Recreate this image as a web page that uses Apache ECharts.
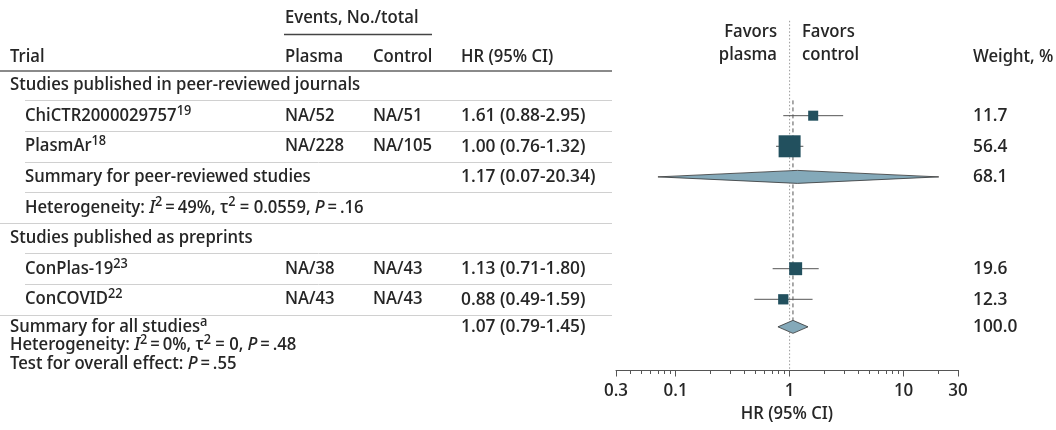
<!DOCTYPE html>
<html><head><meta charset="utf-8">
<script src="https://cdn.jsdelivr.net/npm/echarts@6/dist/echarts.min.js"></script>
<style>html,body{margin:0;padding:0;background:#fff}#main{width:1056px;height:430px}</style>
</head><body><div id="main"></div>
<script>
// ---------- data ----------
const studyNames   = ['ChiCTR2000029757', 'PlasmAr', 'ConPlas-19', 'ConCOVID'];
const studyRefs    = ['19', '18', '23', '22'];
const studyRows    = [1, 2, 6, 7];
const plasmaEvents = ['NA/52', 'NA/228', 'NA/38', 'NA/43'];
const controlEvents= ['NA/51', 'NA/105', 'NA/43', 'NA/43'];
const studyHR      = [1.61, 1.00, 1.13, 0.88];
const studyLo      = [0.88, 0.76, 0.71, 0.49];
const studyHi      = [2.95, 1.32, 1.80, 1.59];
const studyWeight  = [11.7, 56.4, 19.6, 12.3];

const summaryNames = ['Summary for peer-reviewed studies', 'Summary for all studies'];
const summaryRefs  = ['', 'a'];
const summaryRows  = [3, 7.9];
const summaryHR    = [1.17, 1.07];
const summaryLo    = [0.07, 0.79];
const summaryHi    = [20.34, 1.45];
const summaryWeight= [68.1, 100.0];

const groupNames = ['Studies published in peer-reviewed journals', 'Studies published as preprints'];
const groupRows  = [0, 5];

const tickValues = [0.03, 0.1, 1, 10, 30];
const tickLabels = ['0.3', '0.1', '1', '10', '30'];
const minorTickValues = [0.04,0.05,0.06,0.07,0.08,0.09,0.2,0.3,0.4,0.5,0.6,0.7,0.8,0.9,2,3,4,5,6,7,8,9,20];

// ---------- style ----------
const FONT = '"Noto Sans Display"';
const FS = 17.7, SUP = 13.5;
const TXT = '#262626';
const SQUARE = '#22505e';
const DIAMOND = '#84a9b9';

const chart = echarts.init(document.getElementById('main'), null, {renderer: 'canvas'});
const fmt2 = v => v.toFixed(2);

chart.setOption({
  animation: false,
  grid: {left: 616, right: 98, top: 0, bottom: 60},
  xAxis: [{
    type: 'log', logBase: 10, min: 0.03, max: 30, position: 'bottom',
    splitLine: {show: false},
    axisLine: {onZero: false, lineStyle: {color: '#555', width: 1}},
    axisTick: {customValues: tickValues, length: 6.5, lineStyle: {color: '#555'}},
    axisLabel: {customValues: tickValues, margin: 12, color: TXT, fontSize: 18, fontFamily: FONT, fontWeight: 500,
      formatter: v => { const i = tickValues.findIndex(t => Math.abs(t - v) / t < 1e-6); return i >= 0 ? tickLabels[i] : ''; }},
    name: 'HR (95% CI)', nameLocation: 'middle', nameGap: 34,
    nameTextStyle: {color: TXT, fontSize: FS, fontFamily: FONT, fontWeight: 500}
  }, {
    type: 'log', logBase: 10, min: 0.03, max: 30, position: 'bottom',
    splitLine: {show: false},
    axisLine: {show: false, onZero: false},
    axisTick: {customValues: minorTickValues, length: 4, lineStyle: {color: '#555', width: 1}},
    axisLabel: {show: false}
  }],
  yAxis: {type: 'value', inverse: true, min: -2.78, max: 9.31, show: false},
  series: [
    { // reference lines
      type: 'custom', coordinateSystem: 'cartesian2d', silent: true,
      data: [[1, -2.1, 9.31, 0], [summaryHR[1], 0.5, 7.68, 1]],
      renderItem: (params, api) => {
        const x = api.value(0), p1 = api.coord([x, api.value(1)]), p2 = api.coord([x, api.value(2)]);
        const dark = api.value(3) === 1;
        return {type: 'line', shape: {x1: p1[0], y1: p1[1], x2: p2[0], y2: p2[1]},
          style: dark ? {stroke: '#555', lineWidth: 1, lineDash: [4, 3]} : {stroke: '#999', lineWidth: 1, lineDash: [1.5, 2]}};
      }
    },
    { // study CIs + squares
      type: 'custom', coordinateSystem: 'cartesian2d', silent: true,
      data: studyNames.map((n, i) => [studyHR[i], studyRows[i], studyLo[i], studyHi[i], studyWeight[i]]),
      renderItem: (params, api) => {
        const c = api.coord([api.value(0), api.value(1)]);
        const l = api.coord([api.value(2), api.value(1)]);
        const h = api.coord([api.value(3), api.value(1)]);
        const s = 2.93 * Math.sqrt(api.value(4));
        return {type: 'group', children: [
          {type: 'line', shape: {x1: l[0], y1: c[1], x2: h[0], y2: c[1]}, style: {stroke: '#555', lineWidth: 1}},
          {type: 'rect', shape: {x: c[0] - s / 2, y: c[1] - s / 2, width: s, height: s}, style: {fill: SQUARE}}
        ]};
      }
    },
    { // summary diamonds
      type: 'custom', coordinateSystem: 'cartesian2d', silent: true,
      data: summaryNames.map((n, i) => [summaryHR[i], summaryRows[i], summaryLo[i], summaryHi[i]]),
      renderItem: (params, api) => {
        const c = api.coord([api.value(0), api.value(1)]);
        const l = api.coord([api.value(2), api.value(1)]);
        const h = api.coord([api.value(3), api.value(1)]);
        const hh = 6.5;
        return {type: 'polygon', shape: {points: [[l[0], c[1]], [c[0], c[1] - hh], [h[0], c[1]], [c[0], c[1] + hh]]},
          style: {fill: DIAMOND, stroke: '#333', lineWidth: 0.8}};
      }
    }
  ]
});

// ---------- table text ----------
const ctx = document.createElement('canvas').getContext('2d');
const W = 500;
function fontStr(size, italic) { return (italic ? 'italic ' : '') + W + ' ' + size + 'px ' + FONT; }
function measure(t, size, italic) { ctx.font = fontStr(size, italic); return ctx.measureText(t).width; }
function pieces(x, y, parts) {
  const out = [];
  let cx = x;
  parts.forEach(p => {
    const size = p.sup ? SUP : FS;
    out.push({type: 'text', x: cx, y: p.sup ? y - 5 : y, silent: true,
      style: {text: p.t, fill: TXT, font: fontStr(size, p.it), textAlign: 'left', textVerticalAlign: 'middle'}});
    cx += measure(p.t, size, p.it);
  });
  return out;
}
function txt(x, y, t, align, size) {
  return {type: 'text', x: x, y: y, silent: true,
    style: {text: t, fill: TXT, font: fontStr(size || FS), textAlign: align || 'left', textVerticalAlign: 'middle'}};
}
function hline(x1, x2, y, color, w) {
  return {type: 'line', silent: true, shape: {x1: x1, y1: y, x2: x2, y2: y}, style: {stroke: color, lineWidth: w}};
}
const Y = r => chart.convertToPixel({yAxisIndex: 0}, r);

const COL_NAME = 10, COL_STUDY = 25, COL_PL = 285, COL_CT = 373, COL_HR = 461, COL_W = 973, TABLE_R = 612;
const NUM = 18.4; // numeric columns a little wider, as in the reference
const els = [];
// header
els.push(txt(COL_PL, 18, 'Events, No./total'));
els.push(hline(284, 432, 34.5, '#444', 1.3));
els.push(txt(COL_NAME, 57, 'Trial'));
els.push(txt(COL_PL, 57, 'Plasma'));
els.push(txt(COL_CT, 57, 'Control'));
els.push(txt(COL_HR, 57, 'HR (95% CI)'));
els.push(txt(COL_W, 57, 'Weight, %'));
els.push(txt(777, 32, 'Favors', 'right'));
els.push(txt(777, 55, 'plasma', 'right'));
els.push(txt(802, 32, 'Favors'));
els.push(txt(802, 55, 'control'));
els.push(hline(0, TABLE_R, 71, '#8a8a8a', 2));

// separators
[0, 1, 2, 3, 5, 6].forEach(r => els.push(hline(COL_STUDY, TABLE_R, Math.round(Y(r + 0.5)) + 0.5, '#d0d0d0', 1)));
[4, 7].forEach(r => els.push(hline(0, TABLE_R, Math.round(Y(r + 0.5)) + 0.5, '#d0d0d0', 1)));

// groups
groupNames.forEach((g, i) => els.push(txt(COL_NAME, Y(groupRows[i]), g)));
// studies
studyNames.forEach((n, i) => {
  const y = Y(studyRows[i]);
  els.push(...pieces(COL_STUDY, y, [{t: n}, {t: studyRefs[i], sup: true}]));
  els.push(txt(COL_PL, y, plasmaEvents[i]));
  els.push(txt(COL_CT, y, controlEvents[i]));
  els.push(txt(COL_HR, y, fmt2(studyHR[i]) + ' (' + fmt2(studyLo[i]) + '-' + fmt2(studyHi[i]) + ')', 'left', NUM));
  els.push(txt(COL_W, y, studyWeight[i].toFixed(1), 'left', NUM));
});
// summaries
summaryNames.forEach((n, i) => {
  const y = Y(summaryRows[i]);
  els.push(...pieces(i === 0 ? COL_STUDY : COL_NAME, y, [{t: n}, {t: summaryRefs[i], sup: true}]));
  els.push(txt(COL_HR, y, fmt2(summaryHR[i]) + ' (' + fmt2(summaryLo[i]) + '-' + fmt2(summaryHi[i]) + ')', 'left', NUM));
  els.push(txt(COL_W, y, summaryWeight[i].toFixed(1), 'left', NUM));
});
// heterogeneity lines
const TS = '\u2009';
els.push(...pieces(COL_STUDY, Y(4), [{t: 'Heterogeneity: '}, {t: 'I', it: true}, {t: '2', sup: true},
  {t: TS + '=' + TS + '49%, τ'}, {t: '2', sup: true}, {t: ' = 0.0559, '}, {t: 'P', it: true}, {t: TS + '=' + TS + '.16'}]));
els.push(...pieces(COL_NAME, 345, [{t: 'Heterogeneity: '}, {t: 'I', it: true}, {t: '2', sup: true},
  {t: TS + '=' + TS + '0%, τ'}, {t: '2', sup: true}, {t: ' = 0, '}, {t: 'P', it: true}, {t: TS + '=' + TS + '.48'}]));
els.push(...pieces(COL_NAME, 364, [{t: 'Test for overall effect: '}, {t: 'P', it: true}, {t: TS + '=' + TS + '.55'}]));

chart.setOption({graphic: {elements: els}});
</script></body></html>
